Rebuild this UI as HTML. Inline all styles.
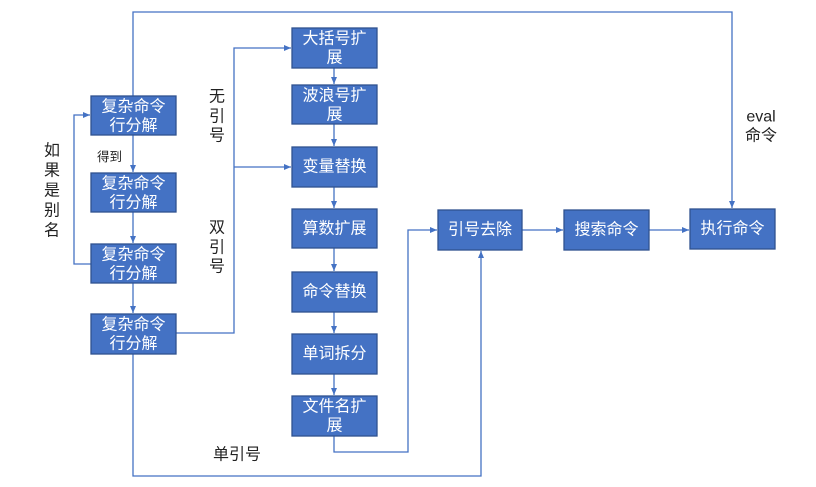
<!DOCTYPE html>
<html><head><meta charset="utf-8"><style>
html,body{margin:0;padding:0;background:#fff;}
svg{display:block;}
text{font-family:"Liberation Sans","Noto Sans CJK SC",sans-serif;}
.b{fill:#4472C4;stroke:#2F528F;stroke-width:1.3;}
.t{fill:#fff;font-size:16px;text-anchor:middle;dominant-baseline:central;}
.l{fill:none;stroke:#4472C4;stroke-width:1.3;}
.k{fill:#222;font-size:16px;text-anchor:middle;dominant-baseline:central;}
</style></head><body>
<svg width="816" height="487" viewBox="0 0 816 487" xmlns="http://www.w3.org/2000/svg">
<defs>
<marker id="a" markerWidth="8" markerHeight="8" refX="7" refY="4" orient="auto" markerUnits="userSpaceOnUse">
<path d="M0,1 L7,4 L0,7 Z" fill="#4472C4"/>
</marker>
</defs>

<!-- connectors -->
<path class="l" d="M133,135 V172" marker-end="url(#a)"/>
<path class="l" d="M133,212 V243" marker-end="url(#a)"/>
<path class="l" d="M133,283 V313" marker-end="url(#a)"/>
<path class="l" d="M91,264 H74 V115 H90" marker-end="url(#a)"/>
<path class="l" d="M133,96 V12 H732 V208" marker-end="url(#a)"/>
<path class="l" d="M176,333 H234 V48 H291" marker-end="url(#a)"/>
<path class="l" d="M234,167 H291" marker-end="url(#a)"/>
<path class="l" d="M133,354 V476 H481 V251" marker-end="url(#a)"/>
<path class="l" d="M334,68 V84" marker-end="url(#a)"/>
<path class="l" d="M334,124 V146" marker-end="url(#a)"/>
<path class="l" d="M334,187 V208" marker-end="url(#a)"/>
<path class="l" d="M334,248 V271" marker-end="url(#a)"/>
<path class="l" d="M334,312 V333" marker-end="url(#a)"/>
<path class="l" d="M334,374 V395" marker-end="url(#a)"/>
<path class="l" d="M334,436 V452 H408 V230 H437" marker-end="url(#a)"/>
<path class="l" d="M522,230 H563" marker-end="url(#a)"/>
<path class="l" d="M649,230 H689" marker-end="url(#a)"/>

<!-- left column -->
<rect class="b" x="91" y="96" width="85" height="39"/>
<text class="t" x="133.5" y="107">复杂命令</text>
<text class="t" x="133.5" y="126">行分解</text>
<rect class="b" x="91" y="173" width="85" height="39"/>
<text class="t" x="133.5" y="184">复杂命令</text>
<text class="t" x="133.5" y="203">行分解</text>
<rect class="b" x="91" y="244" width="85" height="39"/>
<text class="t" x="133.5" y="255">复杂命令</text>
<text class="t" x="133.5" y="274">行分解</text>
<rect class="b" x="91" y="314" width="85" height="40"/>
<text class="t" x="133.5" y="325">复杂命令</text>
<text class="t" x="133.5" y="344">行分解</text>

<!-- middle column -->
<rect class="b" x="292" y="28" width="85" height="40"/>
<text class="t" x="334.5" y="39">大括号扩</text>
<text class="t" x="334.5" y="58">展</text>
<rect class="b" x="292" y="85" width="85" height="39"/>
<text class="t" x="334.5" y="96">波浪号扩</text>
<text class="t" x="334.5" y="115">展</text>
<rect class="b" x="292" y="147" width="85" height="40"/>
<text class="t" x="334.5" y="167">变量替换</text>
<rect class="b" x="292" y="209" width="85" height="39"/>
<text class="t" x="334.5" y="229">算数扩展</text>
<rect class="b" x="292" y="272" width="85" height="40"/>
<text class="t" x="334.5" y="292">命令替换</text>
<rect class="b" x="292" y="334" width="85" height="40"/>
<text class="t" x="334.5" y="354">单词拆分</text>
<rect class="b" x="292" y="396" width="85" height="40"/>
<text class="t" x="334.5" y="407">文件名扩</text>
<text class="t" x="334.5" y="426">展</text>

<!-- right row -->
<rect class="b" x="438" y="210" width="84" height="40"/>
<text class="t" x="480" y="230">引号去除</text>
<rect class="b" x="564" y="210" width="85" height="40"/>
<text class="t" x="606.5" y="230">搜索命令</text>
<rect class="b" x="690" y="209" width="85" height="40"/>
<text class="t" x="732.5" y="229">执行命令</text>

<!-- labels -->
<text class="k" x="52" y="151">如</text>
<text class="k" x="52" y="171">果</text>
<text class="k" x="52" y="191">是</text>
<text class="k" x="52" y="211">别</text>
<text class="k" x="52" y="231">名</text>

<text class="k" x="217" y="97">无</text>
<text class="k" x="217" y="117">引</text>
<text class="k" x="217" y="136">号</text>

<text class="k" x="217" y="228">双</text>
<text class="k" x="217" y="248">引</text>
<text class="k" x="217" y="267">号</text>

<text x="97" y="157" style="font-size:12.5px;fill:#222;dominant-baseline:central;">得到</text>
<text class="k" x="237" y="455">单引号</text>
<text class="k" x="761" y="117">eval</text>
<text class="k" x="761" y="136">命令</text>
</svg>
</body></html>
